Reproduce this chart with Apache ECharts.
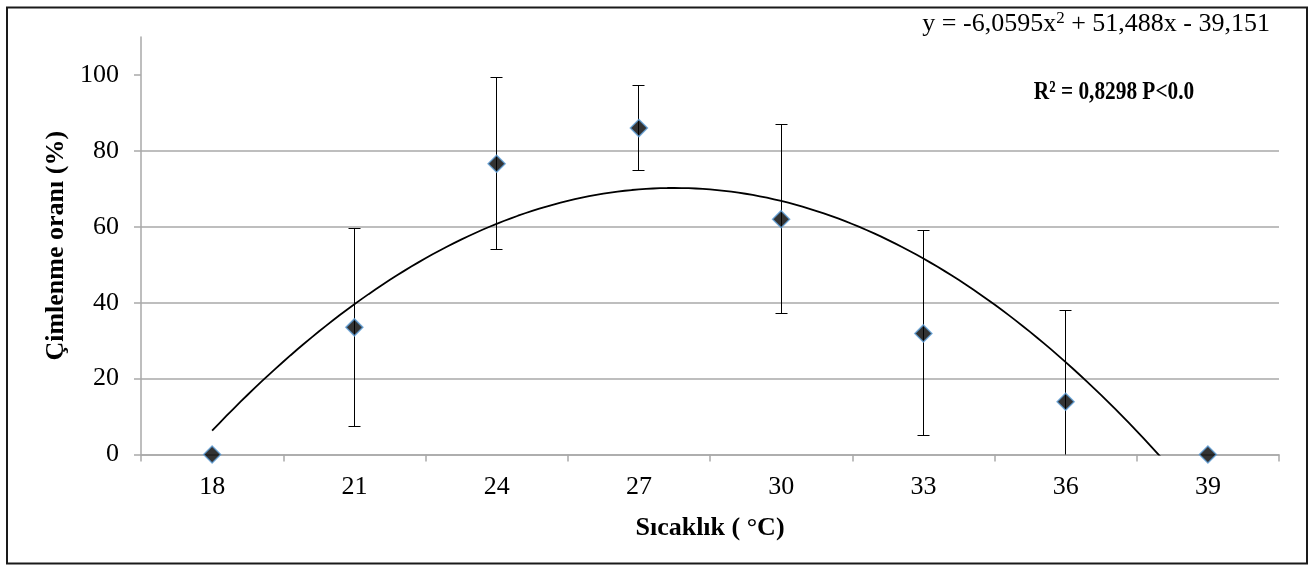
<!DOCTYPE html>
<html>
<head>
<meta charset="utf-8">
<title>Çimlenme oranı - Sıcaklık</title>
<script src="https://cdn.jsdelivr.net/npm/echarts@6/dist/echarts.min.js"></script>
<style>
  html, body { margin: 0; padding: 0; background: #fff; }
  #chart { width: 1309px; height: 568px; }
</style>
</head>
<body>
<div id="chart"></div>
<script>
// Temperature classes (°C) and germination rate (%) with error margins
const categories = ['18', '21', '24', '27', '30', '33', '36', '39'];
const means = [0, 33.5, 76.6, 86.0, 62.0, 31.9, 13.9, 0];
const errors = [0, 26.0, 22.6, 11.2, 24.9, 27.0, 24.1, 0];
const yTicks = [0, 20, 40, 60, 80, 100];

// Second-order polynomial fit (x = class index starting at 1)
const fitA = -6.0595, fitB = 51.488, fitC = -39.151;
const equationParts = ['y = -6,0595x', '2', ' + 51,488x - 39,151'];
const statsText = 'R² = 0,8298 P<0.0';

const FONT = '"Liberation Serif", "Times New Roman", serif';
const GRID_COLOR = '#A9A9A9';

// Fitted curve sampled along the class index
const fitCurve = [];
for (let k = 0; k <= 140; k++) {
  const x = 1 + k * 0.05;
  fitCurve.push([x, fitA * x * x + fitB * x + fitC]);
}

const chart = echarts.init(document.getElementById('chart'), null, { renderer: 'canvas' });

function crisp(v) { return Math.round(v - 0.5) + 0.5; }

chart.setOption({
  backgroundColor: '#fff',
  animation: false,
  grid: { left: 141, right: 30, top: 37, bottom: 113.5 },
  xAxis: [
    {
      type: 'category',
      data: categories,
      boundaryGap: true,
      axisLine: { lineStyle: { color: GRID_COLOR, width: 1.5 } },
      axisTick: { show: true, length: 7, lineStyle: { color: GRID_COLOR, width: 1.5 } },
      axisLabel: { color: '#000', fontFamily: FONT, fontSize: 26, margin: 20, lineHeight: 26 },
      name: 'Sıcaklık ( °C)',
      nameLocation: 'middle',
      nameGap: 61,
      nameTextStyle: { color: '#000', fontFamily: FONT, fontSize: 26, fontWeight: 'bold', lineHeight: 26 },
      splitLine: { show: false }
    },
    {
      type: 'value',
      min: 0.5,
      max: 8.5,
      show: false
    }
  ],
  yAxis: {
    type: 'value',
    min: 0,
    max: 110,
    interval: 20,
    axisLine: { show: true, lineStyle: { color: GRID_COLOR, width: 1.5 } },
    axisTick: { show: true, length: 7, customValues: yTicks, lineStyle: { color: GRID_COLOR, width: 1.5 } },
    axisLabel: { color: '#000', fontFamily: FONT, fontSize: 26, margin: 22, customValues: yTicks },
    splitLine: { show: true, showMaxLine: false, lineStyle: { color: GRID_COLOR, width: 1.5 } },
    name: 'Çimlenme oranı (%)',
    nameLocation: 'middle',
    nameGap: 72,
    nameTextStyle: { color: '#000', fontFamily: FONT, fontSize: 26, fontWeight: 'bold', lineHeight: 26 }
  },
  graphic: [
    {
      type: 'rect',
      shape: { x: 7, y: 7.5, width: 1300, height: 556 },
      style: { fill: null, stroke: '#1a1a1a', lineWidth: 2 },
      silent: true,
      z: 100
    },
    {
      type: 'text',
      right: 39,
      top: 10,
      style: {
        text: '{b|' + equationParts[0] + '}{s|' + equationParts[1] + '}{b|' + equationParts[2] + '}',
        rich: {
          b: { fontFamily: FONT, fontSize: 26, fill: '#000', lineHeight: 28 },
          s: { fontFamily: FONT, fontSize: 17, fill: '#000', verticalAlign: 'top', lineHeight: 28, padding: [0, 0, 8, 0] }
        }
      }
    },
    {
      type: 'text',
      x: 1114,
      y: 92,
      scaleX: 0.82,
      style: {
        text: statsText,
        fontFamily: FONT,
        fontSize: 26,
        fontWeight: 'bold',
        fill: '#000',
        align: 'center',
        verticalAlign: 'middle'
      }
    }
  ],
  series: [
    {
      name: 'fit',
      type: 'line',
      xAxisIndex: 1,
      data: fitCurve,
      showSymbol: false,
      smooth: false,
      clip: true,
      lineStyle: { color: '#000', width: 1.8 },
      z: 2,
      silent: true
    },
    {
      name: 'error',
      type: 'custom',
      xAxisIndex: 0,
      data: categories.map((c, i) => [i, means[i], errors[i]]),
      renderItem: function (params, api) {
        const idx = api.value(0);
        const v = api.value(1);
        const e = api.value(2);
        if (!e) return null;
        const top = api.coord([idx, v + e]);
        const lowVal = Math.max(0, v - e);
        const bot = api.coord([idx, lowVal]);
        const x = crisp(top[0]);
        const half = 6;
        const style = { stroke: '#000', lineWidth: 1 };
        const children = [
          { type: 'line', shape: { x1: x, y1: top[1], x2: x, y2: bot[1] }, style: style },
          { type: 'line', shape: { x1: x - half, y1: crisp(top[1]), x2: x + half, y2: crisp(top[1]) }, style: style }
        ];
        if (v - e >= 0) {
          children.push({ type: 'line', shape: { x1: x - half, y1: crisp(bot[1]), x2: x + half, y2: crisp(bot[1]) }, style: style });
        }
        return { type: 'group', children: children };
      },
      z: 3,
      silent: true
    },
    {
      name: 'Çimlenme oranı',
      type: 'scatter',
      xAxisIndex: 0,
      data: means,
      symbol: 'diamond',
      symbolSize: 17,
      itemStyle: { color: '#000', borderColor: '#5B9BD5', borderWidth: 1.5 },
      z: 4
    }
  ]
});
</script>
</body>
</html>
